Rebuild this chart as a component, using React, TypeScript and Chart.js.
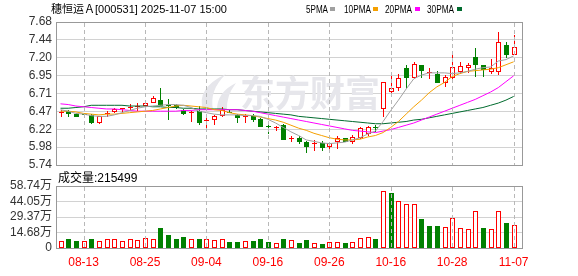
import React, { useEffect, useRef } from "react";
import { Chart, registerables } from "chart.js";

Chart.register(...registerables);

// ---------- data ----------
const title = "穗恒运Ａ[000531] 2025-11-07 15:00";
const volumeTitle = "成交量";

const dates = [
  "08-08", "08-11", "08-12", "08-13", "08-14", "08-15", "08-18", "08-19", "08-20", "08-21",
  "08-22", "08-25", "08-26", "08-27", "08-28", "08-29", "09-01", "09-02", "09-03", "09-04",
  "09-05", "09-08", "09-09", "09-10", "09-11", "09-12", "09-15", "09-16", "09-17", "09-18",
  "09-19", "09-22", "09-23", "09-24", "09-25", "09-26", "09-29", "09-30", "10-09", "10-10",
  "10-13", "10-14", "10-15", "10-16", "10-17", "10-20", "10-21", "10-22", "10-23", "10-24",
  "10-27", "10-28", "10-29", "10-30", "10-31", "11-03", "11-04", "11-05", "11-06", "11-07",
];

const openP = [
  6.45, 6.47, 6.43, 6.43, 6.42, 6.33, 6.44, 6.47, 6.50, 6.52,
  6.53, 6.55, 6.60, 6.62, 6.56, 6.55, 6.48, 6.45, 6.47, 6.34,
  6.37, 6.42, 6.46, 6.42, 6.39, 6.41, 6.37, 6.27, 6.24, 6.28,
  6.10, 6.10, 6.05, 6.03, 6.04, 6.00, 6.06, 6.10, 6.07, 6.12,
  6.17, 6.25, 6.52, 6.74, 6.80, 7.05, 6.93, 7.09, 6.99, 6.98,
  6.87, 6.94, 7.02, 7.07, 7.20, 7.09, 7.02, 7.01, 7.37, 7.25,
];
const highP = [
  6.49, 6.49, 6.44, 6.44, 6.43, 6.41, 6.47, 6.51, 6.52, 6.57,
  6.58, 6.59, 6.67, 6.79, 6.63, 6.57, 6.50, 6.47, 6.54, 6.41,
  6.42, 6.53, 6.48, 6.43, 6.43, 6.43, 6.38, 6.30, 6.27, 6.29,
  6.14, 6.13, 6.07, 6.08, 6.07, 6.05, 6.13, 6.11, 6.15, 6.26,
  6.27, 6.28, 6.86, 6.98, 6.98, 7.10, 7.14, 7.10, 7.05, 7.01,
  6.96, 7.23, 7.14, 7.13, 7.33, 7.10, 7.18, 7.54, 7.41, 7.51,
];
const lowP = [
  6.41, 6.40, 6.40, 6.39, 6.31, 6.31, 6.40, 6.46, 6.46, 6.50,
  6.49, 6.54, 6.59, 6.55, 6.36, 6.52, 6.43, 6.34, 6.30, 6.26,
  6.29, 6.41, 6.44, 6.33, 6.32, 6.34, 6.27, 6.18, 6.21, 6.09,
  6.06, 6.04, 5.92, 5.95, 5.95, 5.97, 5.97, 6.06, 6.04, 6.10,
  6.15, 6.20, 6.41, 6.73, 6.76, 6.80, 6.92, 6.94, 6.92, 6.86,
  6.81, 6.92, 6.99, 7.00, 6.95, 6.95, 6.99, 6.98, 7.21, 7.24,
];
const closeP = [
  6.46, 6.45, 6.41, 6.42, 6.32, 6.40, 6.45, 6.50, 6.51, 6.53,
  6.54, 6.58, 6.65, 6.55, 6.54, 6.53, 6.44, 6.46, 6.32, 6.35,
  6.41, 6.48, 6.45, 6.39, 6.40, 6.37, 6.27, 6.25, 6.26, 6.09,
  6.11, 6.06, 6.00, 6.04, 5.98, 6.04, 6.10, 6.07, 6.12, 6.24,
  6.26, 6.24, 6.86, 6.78, 6.92, 6.93, 7.11, 7.03, 7.00, 6.87,
  6.93, 7.07, 7.08, 7.10, 7.11, 7.04, 7.05, 7.41, 7.24, 7.34,
];
// volume in 万 (10k shares)
const volumeW = [
  6.5, 8.2, 6.5, 6.5, 8.2, 6.5, 8.2, 9.0, 6.5, 9.0,
  7.3, 9.9, 9.0, 18.6, 12.7, 8.2, 10.2, 9.0, 8.2, 9.0,
  7.3, 9.0, 5.9, 5.9, 6.5, 6.8, 8.2, 5.9, 4.8, 9.0,
  7.3, 4.8, 7.3, 4.8, 4.2, 5.6, 5.6, 4.8, 5.6, 9.9,
  10.7, 8.2, 54.0, 51.7, 44.7, 42.1, 41.3, 27.7, 21.2, 21.2,
  20.1, 28.5, 19.2, 18.4, 34.7, 18.6, 18.4, 34.7, 23.7, 21.5499,
];

const ma5 = [
  6.49, 6.47, 6.44, 6.43, 6.41, 6.40, 6.40, 6.42, 6.45, 6.48,
  6.51, 6.53, 6.54, 6.55, 6.56, 6.56, 6.55, 6.52, 6.47, 6.45,
  6.43, 6.42, 6.42, 6.42, 6.41, 6.41, 6.40, 6.36, 6.31, 6.25,
  6.19, 6.14, 6.08, 6.06, 6.04, 6.03, 6.04, 6.05, 6.08, 6.11,
  6.16, 6.20, 6.33, 6.48, 6.62, 6.77, 6.91, 6.96, 6.99, 6.99,
  6.99, 6.98, 6.99, 7.01, 7.04, 7.06, 7.07, 7.15, 7.17, 7.22,
];
const ma10 = [
  6.47, 6.47, 6.46, 6.44, 6.43, 6.42, 6.43, 6.43, 6.44, 6.45,
  6.46, 6.47, 6.48, 6.50, 6.52, 6.54, 6.55, 6.54, 6.53, 6.52,
  6.49, 6.48, 6.45, 6.43, 6.42, 6.41, 6.39, 6.37, 6.35, 6.32,
  6.28, 6.24, 6.21, 6.17, 6.14, 6.11, 6.09, 6.08, 6.08, 6.09,
  6.12, 6.14, 6.18, 6.25, 6.33, 6.43, 6.53, 6.62, 6.72, 6.80,
  6.86, 6.94, 6.98, 7.01, 7.02, 7.03, 7.04, 7.06, 7.10, 7.14,
];
const ma20 = [
  6.57, 6.56, 6.54, 6.53, 6.52, 6.51, 6.50, 6.50, 6.49, 6.48,
  6.47, 6.47, 6.47, 6.47, 6.47, 6.47, 6.48, 6.48, 6.49, 6.49,
  6.49, 6.49, 6.49, 6.49, 6.48, 6.47, 6.45, 6.43, 6.41, 6.39,
  6.37, 6.35, 6.33, 6.31, 6.29, 6.27, 6.25, 6.23, 6.21, 6.20,
  6.19, 6.18, 6.20, 6.22, 6.25, 6.28, 6.31, 6.35, 6.39, 6.43,
  6.47, 6.51, 6.55, 6.59, 6.63, 6.68, 6.73, 6.79, 6.87, 6.95,
];
const ma30 = [
  6.51, 6.51, 6.52, 6.53, 6.55, 6.55, 6.55, 6.55, 6.55, 6.54,
  6.54, 6.54, 6.53, 6.53, 6.52, 6.52, 6.51, 6.51, 6.50, 6.50,
  6.50, 6.50, 6.49, 6.49, 6.48, 6.47, 6.46, 6.45, 6.44, 6.43,
  6.42, 6.40, 6.39, 6.38, 6.37, 6.36, 6.35, 6.34, 6.33, 6.32,
  6.31, 6.30, 6.30, 6.31, 6.32, 6.33, 6.35, 6.36, 6.38, 6.40,
  6.42, 6.44, 6.46, 6.48, 6.50, 6.52, 6.55, 6.58, 6.62, 6.67,
];

const maLabels = ["5PMA", "10PMA", "20PMA", "30PMA"];
const xTickDates = ["08-13", "08-25", "09-04", "09-16", "09-26", "10-16", "10-28", "11-07"];
const priceTicks = [5.74, 5.9825, 6.225, 6.4675, 6.71, 6.9525, 7.195, 7.4375, 7.68];
const priceTickLabels = ["5.74", "5.98", "6.22", "6.47", "6.71", "6.95", "7.20", "7.44", "7.68"];
const volTicks = [0, 14.685, 29.37, 44.055, 58.74];
const volTickLabels = ["0", "14.68万", "29.37万", "44.05万", "58.74万"];

// ---------- styles / layout ----------
const W = 578;
const H = 276;
const PLOT_L = 56;
const PLOT_R = 522;
const PRICE_TOP = 22;
const PRICE_BOTTOM = 165;
const VOL_TOP = 186;
const VOL_BOTTOM = 255;
const X_MIN = -0.59;
const X_MAX = 60.09;
const UP = "#ff0000";
const DOWN = "#008000";
const MA_COLORS = ["#a0a0a0", "#f5a000", "#ff00ff", "#006b2e"];
const SANS = "'Liberation Sans', Arial, 'Noto Sans CJK SC', sans-serif";
const HGRID = "#d2d2d2";
const VGRID = "#b8b8b8";
const FRAME = "#999999";
const X_LABEL_H = 14.4; // 12px font * 1.2 line height
const X_LABEL_PAD = 7;

const n = dates.length;
const xTickIdx = xTickDates.map((d) => dates.indexOf(d));

const framePlugin = {
  id: "frame",
  afterDraw(chart: any) {
    const { ctx, chartArea: a } = chart;
    ctx.save();
    ctx.strokeStyle = FRAME;
    ctx.lineWidth = 1;
    ctx.strokeRect(
      Math.round(a.left) + 0.5,
      Math.round(a.top) + 0.5,
      Math.round(a.right - a.left),
      Math.round(a.bottom - a.top)
    );
    ctx.restore();
  },
};

// dashed vertical grid lines at the labelled dates
const vGridPlugin = {
  id: "vgridlines",
  afterDraw(chart: any) {
    const ctx = chart.ctx;
    const a = chart.chartArea;
    const xS = chart.scales["x"];
    if (!a || !xS) return;
    const top = Math.round(a.top) + 1;
    const bottom = Math.round(a.bottom);
    ctx.save();
    ctx.globalCompositeOperation = "source-over";
    ctx.globalAlpha = 1;
    ctx.strokeStyle = VGRID;
    ctx.lineWidth = 1;
    ctx.setLineDash([4, 3]);
    ctx.beginPath();
    for (let k = 0; k < xTickIdx.length; k++) {
      const px = Math.round(xS.getPixelForValue(xTickIdx[k])) + 0.5;
      ctx.moveTo(px, top);
      ctx.lineTo(px, bottom);
    }
    ctx.stroke();
    ctx.restore();
  },
};

const candlePlugin = {
  id: "candles",
  beforeDatasetsDraw(chart: any) {
    const { ctx } = chart;
    const xS = chart.scales.x;
    const yS = chart.scales.y;
    ctx.save();
    // watermark
    ctx.fillStyle = "#e6e6eb";
    ctx.beginPath();
    ctx.moveTo(203, 110);
    ctx.quadraticCurveTo(196, 88, 226, 74);
    ctx.quadraticCurveTo(209, 90, 213, 110);
    ctx.closePath();
    ctx.fill();
    ctx.beginPath();
    ctx.moveTo(217, 110);
    ctx.quadraticCurveTo(217, 92, 236, 83);
    ctx.quadraticCurveTo(226, 96, 227, 110);
    ctx.closePath();
    ctx.fill();
    ctx.font = "bold 36px 'Noto Sans CJK SC', sans-serif";
    ctx.textBaseline = "middle";
    ctx.textAlign = "left";
    ctx.fillText("东方财富", 240, 93, 140);

    for (let i = 0; i < n; i++) {
      const cx = Math.round(xS.getPixelForValue(i));
      const yo = yS.getPixelForValue(openP[i]);
      const yc = yS.getPixelForValue(closeP[i]);
      const yh = Math.round(yS.getPixelForValue(highP[i]));
      const yl = Math.round(yS.getPixelForValue(lowP[i]));
      const top = Math.round(Math.min(yo, yc));
      const bot = Math.round(Math.max(yo, yc));
      const up = closeP[i] >= openP[i];
      const col = up ? UP : DOWN;
      ctx.fillStyle = col;
      ctx.strokeStyle = col;
      ctx.lineWidth = 1;
      if (top > yh) ctx.fillRect(cx, yh, 1, top - yh);
      if (yl > bot) ctx.fillRect(cx, bot, 1, yl - bot + 1);
      if (bot - top < 2) {
        ctx.fillRect(cx - 2, top, 5, 1);
      } else if (up) {
        ctx.fillStyle = "#ffffff";
        ctx.fillRect(cx - 2, top, 5, bot - top);
        ctx.strokeRect(cx - 2 + 0.5, top + 0.5, 4, bot - top);
      } else {
        ctx.fillRect(cx - 2, top, 5, bot - top + 1);
      }
    }
    ctx.restore();
  },
};

const headerPlugin = {
  id: "header",
  afterDraw(chart: any) {
    const { ctx } = chart;
    ctx.save();
    ctx.font = `11px ${SANS}`;
    ctx.fillStyle = "#000";
    ctx.textBaseline = "alphabetic";
    ctx.textAlign = "left";
    ctx.fillText(title, 51, 13);
    const legendPos = [
      { tx: 306, tw: 22, bx: 330 },
      { tx: 344, tw: 27, bx: 373 },
      { tx: 385, tw: 27, bx: 415 },
      { tx: 427, tw: 27, bx: 457 },
    ];
    maLabels.forEach((lab, k) => {
      const p = legendPos[k];
      ctx.fillStyle = "#000";
      ctx.fillText(lab, p.tx, 13, p.tw);
      ctx.fillStyle = MA_COLORS[k];
      ctx.fillRect(p.bx, 7, 5, 4);
    });
    ctx.restore();
  },
};

const volumePlugin = {
  id: "volbars",
  beforeDatasetsDraw(chart: any) {
    const { ctx } = chart;
    const xS = chart.scales.x;
    const yS = chart.scales.y;
    const base = Math.round(yS.getPixelForValue(0));
    ctx.save();
    ctx.lineWidth = 1;
    for (let i = 0; i < n; i++) {
      const cx = Math.round(xS.getPixelForValue(i));
      const yv = Math.round(yS.getPixelForValue(volumeW[i]));
      const up = i === 0 ? closeP[i] >= openP[i] : closeP[i] >= closeP[i - 1];
      if (up) {
        ctx.fillStyle = "#ffffff";
        ctx.fillRect(cx - 2, yv, 5, base - yv);
        ctx.strokeStyle = UP;
        ctx.strokeRect(cx - 2 + 0.5, yv + 0.5, 4, base - yv - 1);
      } else {
        ctx.fillStyle = DOWN;
        ctx.fillRect(cx - 2, yv, 5, base - yv);
      }
    }
    ctx.restore();
  },
  afterDraw(chart: any) {
    const { ctx } = chart;
    ctx.save();
    ctx.font = `12px ${SANS}`;
    ctx.fillStyle = "#000";
    ctx.textBaseline = "alphabetic";
    ctx.textAlign = "left";
    ctx.fillText(`${volumeTitle}:${Math.round(volumeW[n - 1] * 10000)}`, 58, 182);
    ctx.restore();
  },
};

function xScaleOpts(showLabels: boolean) {
  return {
    type: "linear" as const,
    display: true,
    position: "bottom" as const,
    offset: false,
    min: X_MIN,
    max: X_MAX,
    afterBuildTicks: (s: any) => {
      s.ticks = xTickIdx.map((v) => ({ value: v }));
    },
    ticks: {
      display: showLabels,
      autoSkip: false,
      maxRotation: 0,
      minRotation: 0,
      color: "#ff0000",
      font: { family: SANS, size: 12 },
      padding: X_LABEL_PAD,
      callback: (v: any) => dates[Math.round(Number(v))],
    },
    grid: { display: false, drawTicks: false },
    border: { display: false },
  };
}

export default function App() {
  const priceRef = useRef<HTMLCanvasElement>(null);
  const volRef = useRef<HTMLCanvasElement>(null);

  useEffect(() => {
    if (!priceRef.current || !volRef.current) return;
    const maSeries = [ma5, ma10, ma20, ma30];
    const priceChart = new Chart(priceRef.current, {
      type: "line",
      data: {
        datasets: maSeries.map((s, k) => ({
          label: maLabels[k],
          data: s.map((y, i) => ({ x: i, y })),
          borderColor: MA_COLORS[k],
          borderWidth: 1,
          pointRadius: 0,
          tension: 0,
          fill: false,
        })),
      },
      options: {
        responsive: false,
        animation: false,
        devicePixelRatio: 1,
        events: [],
        layout: { padding: { top: PRICE_TOP, bottom: H - PRICE_BOTTOM, left: 0, right: W - PLOT_R } },
        plugins: { legend: { display: false }, tooltip: { enabled: false } },
        scales: {
          x: xScaleOpts(false) as any,
          y: {
            min: priceTicks[0],
            max: priceTicks[priceTicks.length - 1],
            afterBuildTicks: (s: any) => {
              s.ticks = priceTicks.map((v) => ({ value: v }));
            },
            afterFit: (s: any) => {
              s.width = PLOT_L;
            },
            ticks: {
              autoSkip: false,
              color: "#333",
              font: { family: SANS, size: 12 },
              padding: 4,
              callback: (_v: any, i: number) => priceTickLabels[i],
            },
            grid: { color: HGRID, drawTicks: false },
            border: { display: false },
          },
        },
      },
      plugins: [candlePlugin, vGridPlugin, framePlugin, headerPlugin],
    });

    const volChart = new Chart(volRef.current, {
      type: "line",
      data: {
        datasets: [
          {
            label: volumeTitle,
            data: volumeW.map((y, i) => ({ x: i, y })),
            showLine: false,
            pointRadius: 0,
            borderWidth: 0,
          },
        ],
      },
      options: {
        responsive: false,
        animation: false,
        devicePixelRatio: 1,
        events: [],
        layout: {
          padding: {
            top: VOL_TOP,
            bottom: H - VOL_BOTTOM - X_LABEL_H - X_LABEL_PAD,
            left: 0,
            right: W - PLOT_R,
          },
        },
        plugins: { legend: { display: false }, tooltip: { enabled: false } },
        scales: {
          x: xScaleOpts(true) as any,
          y: {
            min: volTicks[0],
            max: volTicks[volTicks.length - 1],
            afterBuildTicks: (s: any) => {
              s.ticks = volTicks.map((v) => ({ value: v }));
            },
            afterFit: (s: any) => {
              s.width = PLOT_L;
            },
            ticks: {
              autoSkip: false,
              color: "#333",
              font: { family: SANS, size: 12 },
              padding: 4,
              callback: (_v: any, i: number) => volTickLabels[i],
            },
            grid: { color: HGRID, drawTicks: false },
            border: { display: false },
          },
        },
      },
      plugins: [volumePlugin, vGridPlugin, framePlugin],
    });

    return () => {
      priceChart.destroy();
      volChart.destroy();
    };
  }, []);

  const canvasStyle: React.CSSProperties = { position: "absolute", left: 0, top: 0 };
  return (
    <div style={{ position: "fixed", left: 0, top: 0, width: W, height: H, background: "#fff" }}>
      <canvas ref={priceRef} width={W} height={H} style={canvasStyle} />
      <canvas ref={volRef} width={W} height={H} style={canvasStyle} />
    </div>
  );
}
